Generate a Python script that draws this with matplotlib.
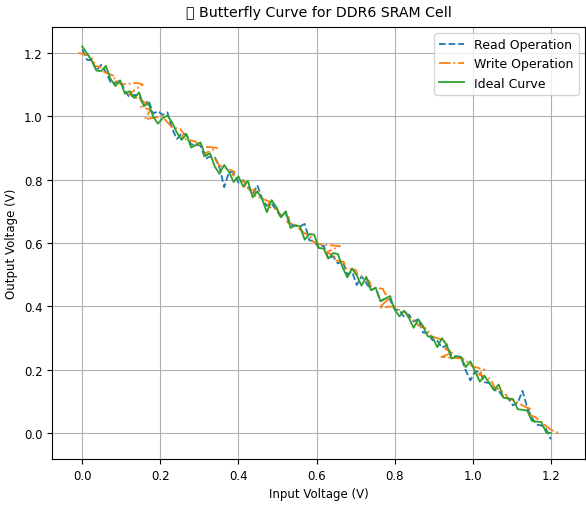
import numpy as np
import matplotlib
matplotlib.use("Agg")
import matplotlib.pyplot as plt

# Input voltage sweep (V)
v_in = np.linspace(0.0, 1.2, 100)

# Measured output voltage, read operation (V)
read_vout = [
    1.210, 1.178, 1.176, 1.144, 1.162, 1.139, 1.107, 1.105, 1.113, 1.081,
    1.059, 1.067, 1.065, 1.032, 1.050, 1.008, 1.016, 1.004, 1.012, 0.960,
    0.928, 0.945, 0.943, 0.911, 0.909, 0.907, 0.865, 0.873, 0.871, 0.838,
    0.776, 0.824, 0.822, 0.790, 0.798, 0.776, 0.754, 0.782, 0.739, 0.717,
    0.725, 0.703, 0.681, 0.699, 0.657, 0.655, 0.652, 0.660, 0.608, 0.606,
    0.584, 0.592, 0.550, 0.558, 0.535, 0.543, 0.501, 0.509, 0.467, 0.495,
    0.473, 0.451, 0.458, 0.416, 0.424, 0.422, 0.390, 0.388, 0.366, 0.374,
    0.352, 0.359, 0.317, 0.315, 0.293, 0.291, 0.269, 0.277, 0.245, 0.242,
    0.240, 0.198, 0.166, 0.194, 0.192, 0.160, 0.158, 0.135, 0.133, 0.111,
    0.109, 0.087, 0.095, 0.133, 0.081, 0.048, 0.026, 0.024, 0.012, -0.020,
]

# Write operation: both input and output voltages carry jitter (V)
write_vin = [
    -0.010, 0.020, 0.030, 0.030, 0.060, 0.055, 0.085, 0.080, 0.100, 0.140,
    0.155, 0.120, 0.150, 0.165, 0.150, 0.175, 0.160, 0.205, 0.215, 0.230,
    0.250, 0.260, 0.255, 0.290, 0.300, 0.345, 0.310, 0.330, 0.345, 0.350,
    0.360, 0.390, 0.385, 0.400, 0.420, 0.415, 0.445, 0.440, 0.460, 0.480,
    0.475, 0.500, 0.505, 0.530, 0.525, 0.550, 0.555, 0.570, 0.585, 0.590,
    0.610, 0.660, 0.625, 0.645, 0.650, 0.670, 0.675, 0.700, 0.705, 0.720,
    0.735, 0.740, 0.770, 0.775, 0.790, 0.760, 0.800, 0.810, 0.830, 0.835,
    0.850, 0.860, 0.880, 0.890, 0.895, 0.920, 0.935, 0.930, 0.950, 0.920,
    0.975, 0.990, 1.000, 1.030, 1.015, 1.040, 1.050, 1.055, 1.070, 1.085,
    1.090, 1.110, 1.130, 1.150, 1.140, 1.160, 1.175, 1.185, 1.200, 1.220,
]
write_vout = [
    1.200, 1.190, 1.175, 1.160, 1.150, 1.140, 1.125, 1.115, 1.100, 1.105,
    1.100, 1.070, 1.050, 1.040, 1.030, 1.020, 0.990, 1.000, 0.985, 0.965,
    0.960, 0.945, 0.930, 0.920, 0.905, 0.900, 0.880, 0.870, 0.860, 0.845,
    0.840, 0.825, 0.815, 0.800, 0.790, 0.775, 0.765, 0.750, 0.740, 0.730,
    0.715, 0.705, 0.690, 0.685, 0.665, 0.655, 0.645, 0.630, 0.620, 0.605,
    0.595, 0.590, 0.570, 0.560, 0.545, 0.540, 0.520, 0.515, 0.500, 0.490,
    0.480, 0.460, 0.455, 0.440, 0.430, 0.395, 0.400, 0.390, 0.380, 0.365,
    0.355, 0.340, 0.330, 0.315, 0.305, 0.295, 0.280, 0.265, 0.255, 0.240,
    0.235, 0.220, 0.210, 0.200, 0.185, 0.175, 0.160, 0.145, 0.135, 0.120,
    0.110, 0.100, 0.085, 0.075, 0.060, 0.050, 0.035, 0.025, 0.010, 0.000,
]

# Ideal transfer curve (V)
ideal_vout = [
    1.220, 1.198, 1.176, 1.144, 1.142, 1.159, 1.117, 1.095, 1.113, 1.071,
    1.079, 1.057, 1.075, 1.032, 1.040, 0.998, 0.976, 0.994, 1.002, 0.980,
    0.948, 0.925, 0.943, 0.901, 0.909, 0.917, 0.875, 0.883, 0.841, 0.818,
    0.846, 0.824, 0.792, 0.810, 0.778, 0.796, 0.744, 0.762, 0.739, 0.697,
    0.735, 0.713, 0.681, 0.699, 0.647, 0.655, 0.652, 0.610, 0.628, 0.626,
    0.584, 0.582, 0.550, 0.568, 0.565, 0.523, 0.491, 0.519, 0.497, 0.465,
    0.493, 0.451, 0.458, 0.416, 0.424, 0.432, 0.390, 0.368, 0.386, 0.364,
    0.332, 0.359, 0.337, 0.305, 0.303, 0.271, 0.299, 0.277, 0.235, 0.242,
    0.240, 0.208, 0.226, 0.194, 0.162, 0.180, 0.158, 0.135, 0.153, 0.111,
    0.109, 0.107, 0.075, 0.073, 0.071, 0.038, 0.036, 0.034, 0.002, 0.000,
]

fig = plt.figure(figsize=(5.86, 5.06), dpi=100)
ax = fig.add_axes([0.089, 0.091, 0.909, 0.854])

ax.plot(v_in, read_vout, linestyle="--", color="#1f77b4", lw=1.3, label="Read Operation")
ax.plot(write_vin, write_vout, linestyle="-.", color="#ff7f0e", lw=1.3, label="Write Operation")
ax.plot(v_in, ideal_vout, linestyle="-", color="#2ca02c", lw=1.3, label="Ideal Curve")

ax.set_xlim(-0.077, 1.287)
ax.set_ylim(-0.082, 1.282)
ax.set_xticks([0.0, 0.2, 0.4, 0.6, 0.8, 1.0, 1.2])
ax.set_yticks([0.0, 0.2, 0.4, 0.6, 0.8, 1.0, 1.2])
ax.tick_params(labelsize=8.5)
ax.grid(True, color="#b0b0b0", linewidth=0.8)

ax.set_xlabel("Input Voltage (V)", fontsize=8.5)
ax.set_ylabel("Output Voltage (V)", fontsize=8.5)
ax.set_title("\U0001F98B Butterfly Curve for DDR6 SRAM Cell", fontsize=10.2, pad=8)
ax.legend(loc="upper right", fontsize=9)

fig.savefig("out.png", dpi=100)
